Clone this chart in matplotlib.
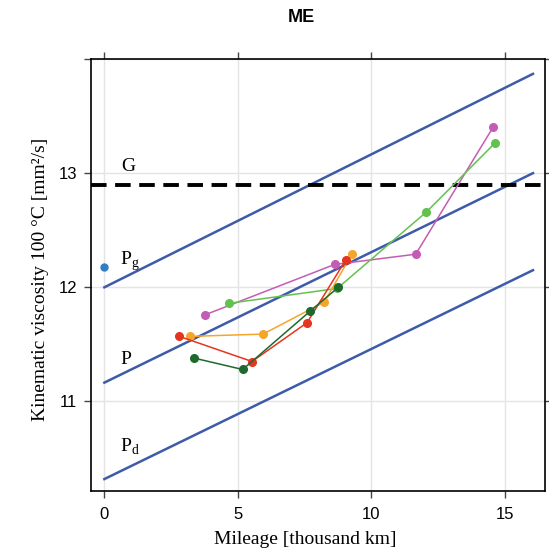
import matplotlib
matplotlib.use('Agg')
import matplotlib.pyplot as plt

# limit lines (start / end of each band line)
line_x = [0, 16.05]
upper_y = [12.0, 13.87]
p_y = [11.165, 13.0]
pd_y = [10.32, 12.15]
g_level = 12.9
pg_point = (0, 12.18)

# measured series: mileage [thousand km], viscosity [mm2/s]
mag_x = [3.78, 8.62, 11.66, 14.55]
mag_y = [11.76, 12.20, 12.29, 13.40]
lgr_x = [4.68, 8.72, 12.06, 14.61]
lgr_y = [11.86, 11.99, 12.66, 13.26]
ora_x = [3.19, 5.94, 8.23, 9.27]
ora_y = [11.57, 11.59, 11.87, 12.29]
red_x = [2.81, 5.53, 7.59, 9.04]
red_y = [11.57, 11.35, 11.69, 12.24]
dgr_x = [3.36, 5.18, 7.70, 8.76]
dgr_y = [11.38, 11.28, 11.79, 12.00]

serif = ['Liberation Serif', 'DejaVu Serif']
sans = ['Liberation Sans', 'DejaVu Sans']
plt.rcParams['font.family'] = sans

fig = plt.figure(figsize=(5.49, 5.55), dpi=100)
ax = fig.add_axes([91 / 549, 1 - 490.5 / 555, 454 / 549, 431.5 / 555])

ax.grid(True, color='#e4e4e4', lw=1)
ax.set_axisbelow(True)

blue = '#3d5ba9'
for yy in (upper_y, p_y, pd_y):
    ax.plot(line_x, yy, color=blue, lw=1.8)
ax.axhline(g_level, color='black', lw=2.8, ls=(0, (4, 2.2)))
ax.plot(*pg_point, 'o', color='#2f7fc1', ms=5)

series = [
    (mag_x, mag_y, '#c45cb5'),
    (lgr_x, lgr_y, '#63c24d'),
    (ora_x, ora_y, '#f5a52a'),
    (red_x, red_y, '#e5351f'),
    (dgr_x, dgr_y, '#1e6a2e'),
]
for xs, ys, c in series:
    ax.plot(xs, ys, '-o', color=c, lw=1.1, ms=5.5)

ax.text(0.65, 13.02, 'G', family=serif, fontsize=14)
ax.text(0.6, 12.2, r'P$_\mathregular{g}$', family=serif, fontsize=14)
ax.text(0.6, 11.33, 'P', family=serif, fontsize=14)
ax.text(0.6, 10.56, r'P$_\mathregular{d}$', family=serif, fontsize=14)

ax.set_xlim(-0.5, 16.5)
ax.set_ylim(10.22, 14.0)
ax.set_xticks([0, 5, 10, 15])
ax.set_yticks([11, 12, 13, 14])
ax.set_yticklabels(['11', '12', '13', ''])
ax.tick_params(direction='out', length=5, width=1, labelsize=12,
               top=True, right=True, color='#444444')
ax.tick_params(axis='x', pad=7)
ax.tick_params(axis='y', pad=5)
for s in ax.spines.values():
    s.set_linewidth(1.2)

ax.set_xlabel('Mileage [thousand km]', family=serif, fontsize=14)
ax.xaxis.set_label_coords(0.471, -0.094)
ax.set_ylabel('Kinematic viscosity 100 °C [mm²/s]', family=serif, fontsize=14)
ax.yaxis.set_label_coords(-0.093, 0.49)
fig.text(301 / 549, 1 - 18 / 555, 'ME', ha='center', va='center',
         fontsize=13, fontweight='bold')

fig.savefig('out.png', dpi=100)
